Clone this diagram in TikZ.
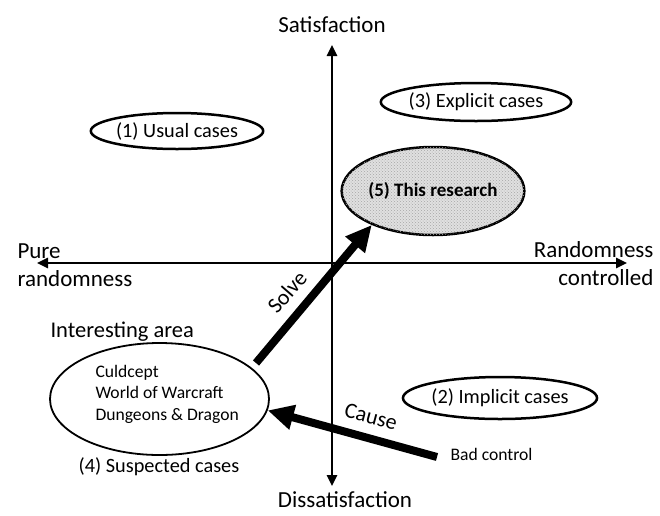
\documentclass[tikz,border=0pt]{standalone}
\usepackage{fontspec}
\setmainfont{Carlito}
\usetikzlibrary{shapes.geometric,arrows.meta,patterns}
\begin{document}
\begin{tikzpicture}[x=1pt,y=-1pt,
  axis/.style={line width=2.5pt,{Triangle[length=11pt,width=10pt]}-{Triangle[length=11pt,width=10pt]}},
  big/.style={font=\fontsize{23}{28}\selectfont},
  mid/.style={font=\fontsize{20.3}{24}\selectfont},
  lbl/.style={font=\fontsize{22.5}{27}\selectfont},
  small/.style={font=\fontsize{17.6}{21.5}\selectfont},
  oval/.style={ellipse,draw,line width=2.5pt,inner sep=0pt},
  fat/.style={line width=8pt,-{Triangle[length=26pt,width=24pt]}},
]
\useasboundingbox (0,0) rectangle (660,515);
\fill[white] (0,0) rectangle (660,515);

% axes
\coordinate (top) at (332,45);
\coordinate (bottom) at (332,486);
\coordinate (left) at (37,263);
\coordinate (right) at (627,263);
\draw[axis] (bottom) -- (top);
\draw[axis] (left) -- (right);

% axis labels
\node[big,anchor=base] (sat) at (332,32) {Satisfaction};
\node[big,anchor=base] (dis) at (345,507) {Dissatisfaction};
\node[big,anchor=base west] (pure) at (14,258) {Pure};
\node[big,anchor=base west] (rand) at (14,286) {randomness};
\node[big,anchor=base east] (rc1) at (657,257) {Randomness};
\node[big,anchor=base east] (rc2) at (657,285) {controlled};

% ellipses
\node[oval,mid,minimum width=166pt,minimum height=36pt] (e1) at (177,131) {(1) Usual cases};
\node[oval,mid,minimum width=168pt,minimum height=38pt] (e3) at (476,102) {(3) Explicit cases};
\node[oval,fill=black!12,postaction={pattern=crosshatch dots,pattern color=black!35},
      minimum width=152pt,minimum height=88pt,
      font=\bfseries\fontsize{19}{23}\selectfont] (e5) at (433,191) {(5) This research};
\node[oval,mid,minimum width=186pt,minimum height=42pt] (e2) at (500,398) {(2) Implicit cases};
\node[ellipse,draw,line width=1.8pt,inner sep=0pt,minimum width=219pt,minimum height=112pt] (e4) at (159.5,399) {};

% texts in / around interesting area
\node[lbl,anchor=base west] (int) at (47,337) {Interesting area};
\node[small,anchor=base west] (g1) at (92,377) {Culdcept};
\node[small,anchor=base west] (g2) at (92,398.5) {World of Warcraft};
\node[small,anchor=base west] (g3) at (92,420) {Dungeons \& Dragon};
\node[mid,anchor=base] (sus) at (159,472) {(4) Suspected cases};
\node[small,anchor=base west] (bad) at (447,460) {Bad control};

% thick arrows
\coordinate (solvetail) at (256,363);
\coordinate (causetail) at (437,457);
\draw[fat] (solvetail) -- (e5.209);
\draw[fat] (causetail) -- (e4.-6);
\node[font=\fontsize{22}{26}\selectfont,rotate=49,inner sep=1pt] (solve) at (287,292) {Solve};
\node[font=\fontsize{22}{26}\selectfont,rotate=-15,inner sep=1pt] (cause) at (371,417) {Cause};
\end{tikzpicture}
\end{document}
